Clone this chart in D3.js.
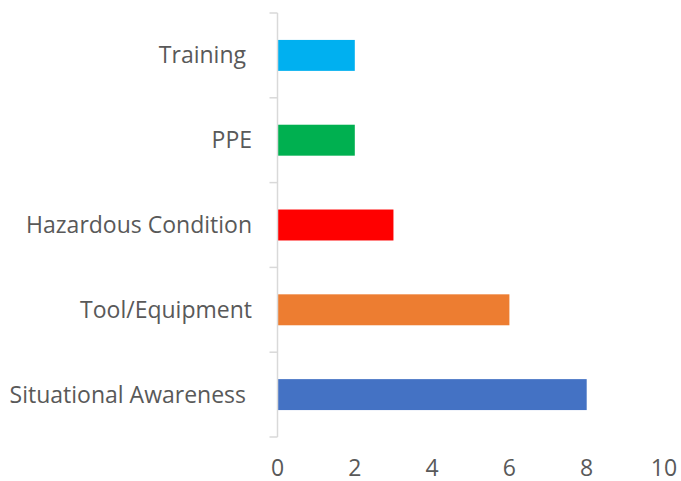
<!DOCTYPE html>
<html>
<head>
<meta charset="utf-8">
<script src="https://cdnjs.cloudflare.com/ajax/libs/d3/7.8.5/d3.min.js"></script>
<style>
  body { margin: 0; background: #fff; }
  svg text { font-family: "Open Sans", sans-serif; fill: #595959; white-space: pre; }
</style>
</head>
<body>
<svg id="chart" width="681" height="481"></svg>
<script>
// categories from bottom to top, as in the picture
const categories = ["Situational Awareness ", "Tool/Equipment", "Hazardous Condition", "PPE", "Training "]
const values = [8, 6, 3, 2, 2]
const barColors = ["#4472C4", "#ED7D31", "#FF0000", "#00B050", "#00B0F0"]
const xTicks = [0, 2, 4, 6, 8, 10]

const margin = { top: 13, right: 17, bottom: 44, left: 277.5 }
const width = 681, height = 481

const svg = d3.select("#chart")

let xScale = d3.scaleLinear()
    .domain([0, 10])
    .range([margin.left, width - margin.right])

let yScale = d3.scaleBand()
    .domain(categories)
    .range([height - margin.bottom, margin.top])
    .paddingInner(0.635)
    .paddingOuter(0.3175)

// bars
svg.selectAll(".bar")
    .data(categories)
    .enter()
    .append("rect")
    .attr("class", "bar")
    .attr("x", xScale(0))
    .attr("y", d => yScale(d))
    .attr("width", (d, i) => xScale(values[i]) - xScale(0))
    .attr("height", yScale.bandwidth())
    .style("fill", (d, i) => barColors[i])

// vertical category axis with boundary ticks
let yAxisG = svg.append("g")
    .attr("transform", "translate(" + margin.left + ",0)")
let step = yScale.step()
let bounds = d3.range(categories.length + 1).map(i => margin.top + i * step)
yAxisG.append("line")
    .attr("y1", margin.top).attr("y2", height - margin.bottom)
    .attr("stroke", "#d9d9d9").attr("stroke-width", 1.5)
yAxisG.selectAll(".tick")
    .data(bounds)
    .enter()
    .append("line")
    .attr("x1", -8).attr("x2", 0)
    .attr("y1", d => d).attr("y2", d => d)
    .attr("stroke", "#d9d9d9").attr("stroke-width", 1.5)

// category labels
svg.selectAll(".catLabel")
    .data(categories)
    .enter()
    .append("text")
    .attr("class", "catLabel")
    .attr("x", 252)
    .attr("y", d => yScale(d) + yScale.bandwidth() / 2)
    .attr("dy", "0.35em")
    .attr("text-anchor", "end")
    .attr("font-size", "23px")
    .text(d => d)

// x tick labels (no axis line in the picture)
svg.selectAll(".xLabel")
    .data(xTicks)
    .enter()
    .append("text")
    .attr("class", "xLabel")
    .attr("x", d => xScale(d))
    .attr("y", 476)
    .attr("text-anchor", "middle")
    .attr("font-size", "23px")
    .text(d => d)
</script>
</body>
</html>
